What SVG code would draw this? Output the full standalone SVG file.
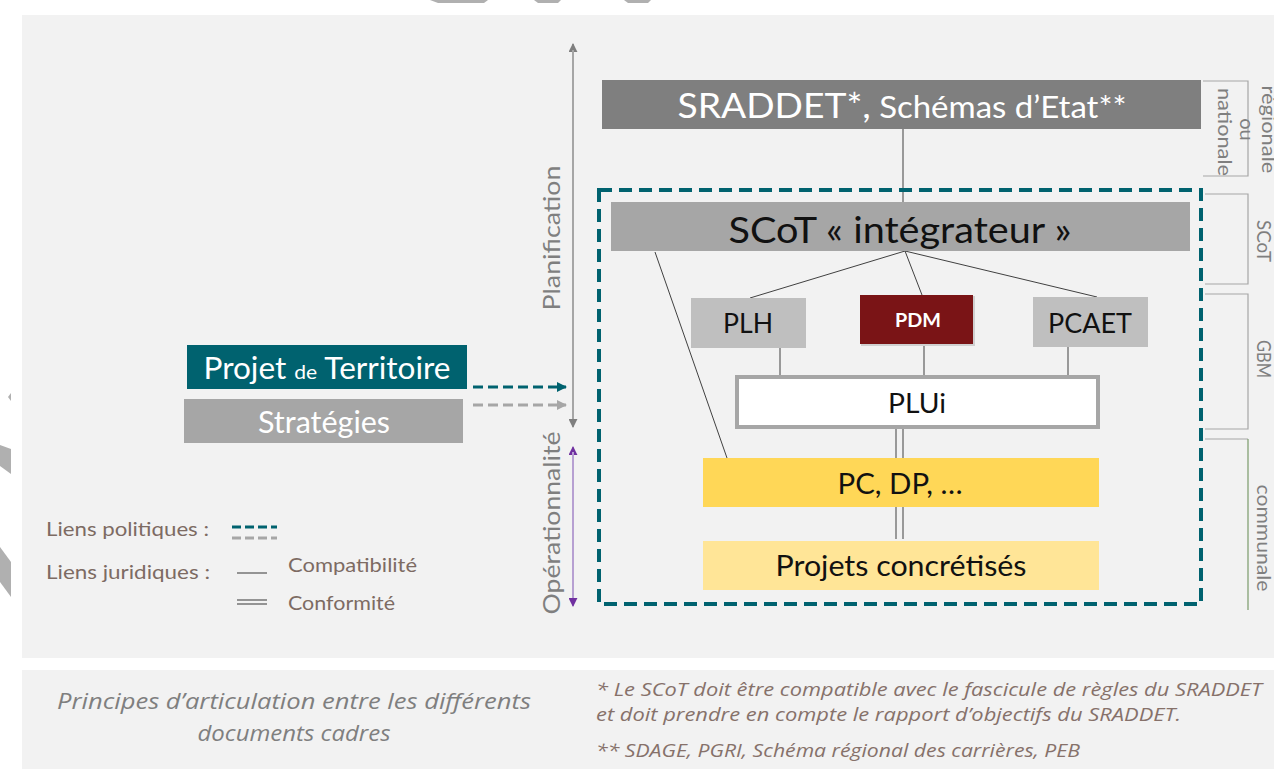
<svg xmlns="http://www.w3.org/2000/svg" width="1274" height="769" viewBox="0 0 1274 769">
  <defs>
    <style>
      .t { font-family: Lato, "Open Sans", "Liberation Sans", sans-serif; }
      .lbl { font-family: Lato, "Open Sans", "Liberation Sans", sans-serif; fill: #7f7f7f; font-size: 20px; }
      .leg { font-family: Lato, "Open Sans", "Liberation Sans", sans-serif; fill: #7d6b63; font-size: 20px; }
      .note { font-family: "Open Sans", "Liberation Sans", sans-serif; font-style: italic; fill: #86716a; font-size: 19px; }
      .cap { fill: #7f7f7f; font-size: 21px; }
      .link { stroke: #404040; stroke-width: 1; fill: none; }
      .bracket { stroke: #a6a6a6; stroke-width: 1.2; fill: none; }
    </style>
    <marker id="headGray" viewBox="0 0 10 10" refX="9" refY="5" markerWidth="9" markerHeight="9" markerUnits="userSpaceOnUse" orient="auto">
      <path d="M0,0 L10,5 L0,10 z" fill="#7f7f7f"/>
    </marker>
    <marker id="headPurple" viewBox="0 0 10 10" refX="9" refY="5" markerWidth="9" markerHeight="9" markerUnits="userSpaceOnUse" orient="auto">
      <path d="M0,0 L10,5 L0,10 z" fill="#7030a0"/>
    </marker>
    <marker id="headTeal" viewBox="0 0 10 10" refX="9" refY="5" markerWidth="10" markerHeight="10" markerUnits="userSpaceOnUse" orient="auto">
      <path d="M0,0 L10,5 L0,10 z" fill="#00626f"/>
    </marker>
    <marker id="headLight" viewBox="0 0 10 10" refX="9" refY="5" markerWidth="10" markerHeight="10" markerUnits="userSpaceOnUse" orient="auto">
      <path d="M0,0 L10,5 L0,10 z" fill="#a6a6a6"/>
    </marker>
  </defs>

  <!-- page -->
  <rect x="0" y="0" width="1274" height="769" fill="#ffffff"/>
  <g id="fragments" fill="#b0b0b0">
    <polygon points="430,0 488,0 484,3 438,3"/>
    <polygon points="534,0 561,0 558,3 538,3"/>
    <polygon points="624,0 651,0 648,3 628,3"/>
    <polygon points="8,397 11,393 11,401"/>
    <polygon points="0,445 11,449 11,474 0,466"/>
    <polygon points="0,547 11,562 11,597 0,582"/>
  </g>
  <rect id="panel-main" x="22" y="15" width="1252" height="643" fill="#f2f2f2"/>
  <rect id="panel-notes" x="22" y="670" width="1252" height="99" fill="#f2f2f2"/>

  <!-- vertical axes -->
  <g id="axis-planification">
    <line x1="573" y1="425" x2="573" y2="44" stroke="#a6a6a6" stroke-width="2" marker-end="url(#headGray)"/>
    <line x1="573" y1="50" x2="573" y2="427" stroke="#a6a6a6" stroke-width="2" marker-end="url(#headGray)"/>
    <text class="t" transform="translate(560,238) rotate(-90)" text-anchor="middle" font-size="24" fill="#7f7f7f" textLength="145" lengthAdjust="spacingAndGlyphs">Planification</text>
  </g>
  <g id="axis-operationnalite">
    <line x1="573" y1="604" x2="573" y2="447" stroke="#b7a0d2" stroke-width="2" marker-end="url(#headPurple)"/>
    <line x1="573" y1="452" x2="573" y2="606" stroke="#b7a0d2" stroke-width="2" marker-end="url(#headPurple)"/>
    <text class="t" transform="translate(560,523) rotate(-90)" text-anchor="middle" font-size="24" fill="#7f7f7f" textLength="183" lengthAdjust="spacingAndGlyphs">Opérationnalité</text>
  </g>

  <!-- scale brackets on the right -->
  <g id="scale-regionale">
    <polyline class="bracket" points="1203,81 1248,81 1248,176 1203,176"/>
    <text class="lbl" transform="translate(1218,132) rotate(90)" text-anchor="middle">
      <tspan x="0" y="-44" textLength="88" lengthAdjust="spacingAndGlyphs">régionale</tspan>
      <tspan x="0" y="-22">ou</tspan>
      <tspan x="0" y="0" textLength="88" lengthAdjust="spacingAndGlyphs">nationale</tspan>
    </text>
  </g>
  <g id="scale-scot">
    <polyline class="bracket" points="1205,194 1248,194 1248,284 1205,284"/>
    <text class="lbl" transform="translate(1257,241) rotate(90)" text-anchor="middle" textLength="42" lengthAdjust="spacingAndGlyphs">SCoT</text>
  </g>
  <g id="scale-gbm">
    <polyline class="bracket" points="1205,294 1248,294 1248,429 1205,429"/>
    <text class="lbl" transform="translate(1257,359) rotate(90)" text-anchor="middle" textLength="38" lengthAdjust="spacingAndGlyphs">GBM</text>
  </g>
  <g id="scale-communale">
    <polyline class="bracket" points="1205,439 1248,439"/>
    <line x1="1248" y1="439" x2="1248" y2="610" stroke="#7a9a6a" stroke-width="1.2"/>
    <text class="lbl" transform="translate(1257,538) rotate(90)" text-anchor="middle" textLength="107" lengthAdjust="spacingAndGlyphs">communale</text>
  </g>

  <!-- connectors -->
  <g id="connectors">
    <line class="link" x1="903" y1="129" x2="903" y2="202"/>
    <line class="link" x1="905" y1="251" x2="750" y2="298"/>
    <line class="link" x1="905" y1="251" x2="922" y2="295"/>
    <line class="link" x1="905" y1="251" x2="1097" y2="297"/>
    <line class="link" x1="655" y1="252" x2="727" y2="458"/>
    <line class="link" x1="780" y1="348" x2="780" y2="376"/>
    <line class="link" x1="924" y1="345" x2="924" y2="376"/>
    <line class="link" x1="1068" y1="347" x2="1068" y2="376"/>
    <line class="link" x1="896" y1="428" x2="896" y2="458"/>
    <line class="link" x1="903" y1="428" x2="903" y2="458"/>
    <line class="link" x1="896" y1="507" x2="896" y2="539"/>
    <line class="link" x1="903" y1="507" x2="903" y2="539"/>
    <line x1="473" y1="387" x2="566" y2="387" stroke="#00626f" stroke-width="3" stroke-dasharray="10,5" marker-end="url(#headTeal)"/>
    <line x1="473" y1="405" x2="566" y2="405" stroke="#a6a6a6" stroke-width="3" stroke-dasharray="10,5" marker-end="url(#headLight)"/>
  </g>

  <!-- SCoT perimeter -->
  <rect id="scot-perimeter" x="599" y="190" width="602" height="414" fill="none" stroke="#00626f" stroke-width="4" stroke-dasharray="13,7"/>

  <!-- nodes -->
  <g id="node-sraddet">
    <rect x="602" y="80" width="599" height="49" fill="#7f7f7f"/>
    <text class="t" x="902" y="118" text-anchor="middle" fill="#ffffff" textLength="449" lengthAdjust="spacingAndGlyphs"><tspan font-size="35">SRADDET*,</tspan><tspan font-size="31"> Schémas d’Etat**</tspan></text>
  </g>
  <g id="node-scot">
    <rect x="611" y="202" width="579" height="49" fill="#a6a6a6"/>
    <text class="t" x="900" y="243" text-anchor="middle" font-size="36" fill="#111111" textLength="343" lengthAdjust="spacingAndGlyphs">SCoT « intégrateur »</text>
  </g>
  <g id="node-plh">
    <rect x="691" y="298" width="115" height="50" fill="#bfbfbf"/>
    <text class="t" x="748" y="333" text-anchor="middle" font-size="27" fill="#111111" textLength="50" lengthAdjust="spacingAndGlyphs">PLH</text>
  </g>
  <g id="node-pdm">
    <rect x="861" y="296" width="114" height="50" fill="#d0d0d0"/>
    <rect x="860" y="295" width="113" height="49" fill="#7a1416"/>
    <text class="t" x="918" y="327" text-anchor="middle" font-size="19" font-weight="bold" fill="#ffffff" textLength="46" lengthAdjust="spacingAndGlyphs">PDM</text>
  </g>
  <g id="node-pcaet">
    <rect x="1033" y="297" width="115" height="50" fill="#bfbfbf"/>
    <text class="t" x="1090" y="333" text-anchor="middle" font-size="27" fill="#111111" textLength="84" lengthAdjust="spacingAndGlyphs">PCAET</text>
  </g>
  <g id="node-plui">
    <rect x="737" y="377" width="361" height="50" fill="#ffffff" stroke="#a6a6a6" stroke-width="4"/>
    <text class="t" x="917" y="413" text-anchor="middle" font-size="27" fill="#111111" textLength="58" lengthAdjust="spacingAndGlyphs">PLUi</text>
  </g>
  <g id="node-pc-dp">
    <rect x="703" y="458" width="396" height="49" fill="#ffd757"/>
    <text class="t" x="900" y="494" text-anchor="middle" font-size="29" fill="#111111" textLength="125" lengthAdjust="spacingAndGlyphs">PC, DP, …</text>
  </g>
  <g id="node-projets">
    <rect x="703" y="541" width="396" height="49" fill="#ffe597"/>
    <text class="t" x="901" y="576" text-anchor="middle" font-size="29" fill="#111111" textLength="251" lengthAdjust="spacingAndGlyphs">Projets concrétisés</text>
  </g>
  <g id="node-projet-territoire">
    <rect x="187" y="345" width="280" height="44" fill="#00626f"/>
    <text class="t" x="327" y="379" text-anchor="middle" fill="#ffffff" textLength="247" lengthAdjust="spacingAndGlyphs"><tspan font-size="30">Projet </tspan><tspan font-size="20">de</tspan><tspan font-size="30"> Territoire</tspan></text>
  </g>
  <g id="node-strategies">
    <rect x="184" y="399" width="279" height="44" fill="#a6a6a6"/>
    <text class="t" x="324" y="433" text-anchor="middle" font-size="30" fill="#ffffff" textLength="132" lengthAdjust="spacingAndGlyphs">Stratégies</text>
  </g>

  <!-- legend -->
  <g id="legend">
    <text class="leg" x="46" y="536" textLength="163" lengthAdjust="spacingAndGlyphs">Liens politiques :</text>
    <line x1="232" y1="527" x2="277" y2="527" stroke="#00626f" stroke-width="3" stroke-dasharray="9,4"/>
    <line x1="232" y1="538" x2="277" y2="538" stroke="#a6a6a6" stroke-width="3" stroke-dasharray="9,4"/>
    <text class="leg" x="46" y="579" textLength="164" lengthAdjust="spacingAndGlyphs">Liens juridiques :</text>
    <line x1="237" y1="573" x2="267" y2="573" stroke="#555555" stroke-width="1.2"/>
    <text class="leg" x="288" y="572" textLength="129" lengthAdjust="spacingAndGlyphs">Compatibilité</text>
    <line x1="237" y1="600" x2="267" y2="600" stroke="#555555" stroke-width="1.2"/>
    <line x1="237" y1="604" x2="267" y2="604" stroke="#555555" stroke-width="1.2"/>
    <text class="leg" x="288" y="610" textLength="107" lengthAdjust="spacingAndGlyphs">Conformité</text>
  </g>

  <!-- notes -->
  <g id="notes">
    <text class="note cap" x="294" y="709" text-anchor="middle" textLength="474" lengthAdjust="spacingAndGlyphs">Principes d’articulation entre les différents</text>
    <text class="note cap" x="294" y="741" text-anchor="middle" textLength="193" lengthAdjust="spacingAndGlyphs">documents cadres</text>
    <text class="note" x="596" y="696" textLength="666" lengthAdjust="spacingAndGlyphs">* Le SCoT doit être compatible avec le fascicule de règles du SRADDET</text>
    <text class="note" x="596" y="721" textLength="585" lengthAdjust="spacingAndGlyphs">et doit prendre en compte le rapport d’objectifs du SRADDET.</text>
    <text class="note" x="596" y="757" textLength="484" lengthAdjust="spacingAndGlyphs">** SDAGE, PGRI, Schéma régional des carrières, PEB</text>
  </g>
</svg>
